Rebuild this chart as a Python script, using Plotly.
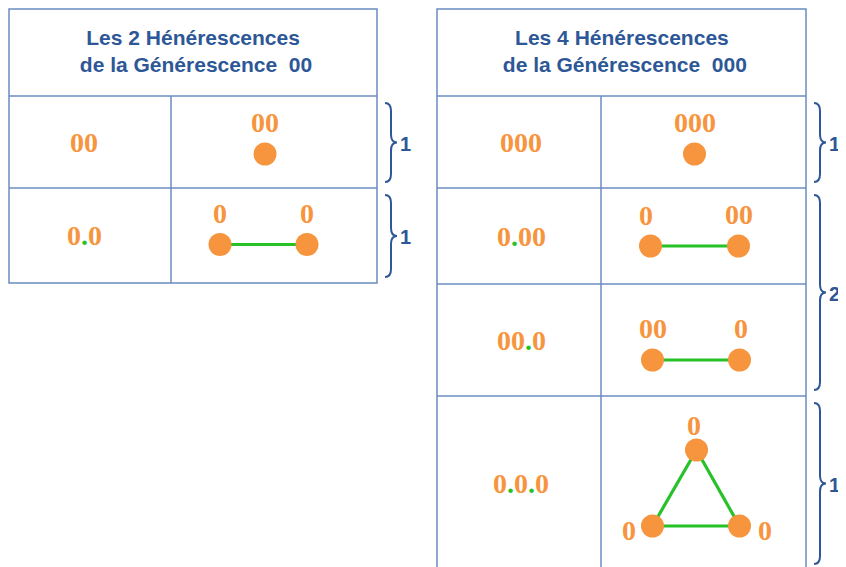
import plotly.graph_objects as go

# ---------------- data ----------------
left_title = ["Les 2 Hénérescences", "de la Générescence  00"]
right_title = ["Les 4 Hénérescences", "de la Générescence  000"]

# codes of each row ('.' rendered in green)
left_codes = ["00", "0.0"]
right_codes = ["000", "0.00", "00.0", "0.0.0"]

# graphs: node labels, node offsets (dx, dy) from cell centre, label offsets, edges
graphs = {
    "00": dict(labels=["00"], nodes=[(-9, 12)], lab=[(0, -32)], edges=[]),
    "0.0": dict(labels=["0", "0"], nodes=[(-54, 9), (33, 9)], lab=[(0, -31), (0, -31)], edges=[(0, 1)]),
    "000": dict(labels=["000"], nodes=[(-9, 12)], lab=[(0, -32)], edges=[]),
    "0.00": dict(labels=["0", "00"], nodes=[(-53, 10), (35, 10)], lab=[(-5, -31), (0, -32)], edges=[(0, 1)]),
    "00.0": dict(labels=["00", "0"], nodes=[(-51, 20), (36, 20)], lab=[(0, -32), (1, -32)], edges=[(0, 1)]),
    "0.0.0": dict(labels=["0", "0", "0"], nodes=[(-7, -33), (-51, 43), (36, 43)],
                  lab=[(-3, -25), (-24, 4), (25, 4)], edges=[(0, 1), (1, 2), (2, 0)]),
}

# row groups with braces: (first row, last row, count)
left_groups = [(0, 0, "1"), (1, 1, "1")]
right_groups = [(0, 0, "1"), (1, 2, "2"), (3, 3, "1")]

# ---------------- layout geometry (page pixels) ----------------
W, H = 846, 567
OFF = 8  # default page margin of the html body
left_x = [9, 171, 377]
left_y = [9, 96, 188, 283]
right_x = [437, 601, 806]
right_y = [9, 96, 188, 284, 396, 570]

LINE = "#6A8CC0"
BLUE = "#2D5796"
ORANGE = "#F7953F"
GREEN = "#27C227"

fig = go.Figure()
shapes = []
annotations = []


def code_html(code):
    return "<b>" + code.replace(".", f"<span style='color:{GREEN}'>.</span>") + "</b>"


def draw_table(xs, ys, title, codes, groups, code_dx):
    x0, xm, x1 = xs
    # outer border
    shapes.append(dict(type="rect", x0=x0, x1=x1, y0=ys[0], y1=ys[-1],
                       line=dict(color=LINE, width=1.5)))
    for y in ys[1:-1]:
        shapes.append(dict(type="line", x0=x0, x1=x1, y0=y, y1=y, line=dict(color=LINE, width=1.5)))
    shapes.append(dict(type="line", x0=xm, x1=xm, y0=ys[1], y1=ys[-1], line=dict(color=LINE, width=1.5)))
    # title
    annotations.append(dict(x=(x0 + x1) / 2, y=(ys[0] + ys[1]) / 2 - 2,
                            text="<b>" + title[0] + "<br> " + title[1] + "</b>",
                            showarrow=False, font=dict(family="Liberation Sans", size=21, color=BLUE),
                            align="center", xanchor="center", yanchor="middle"))
    for i, code in enumerate(codes):
        cy = (ys[i + 1] + ys[i + 2]) / 2
        annotations.append(dict(x=(x0 + xm) / 2 + code_dx, y=cy, text=code_html(code), showarrow=False,
                                font=dict(family="Liberation Serif", size=28, color=ORANGE),
                                xanchor="center", yanchor="middle"))
        g = graphs[code]
        cx = (xm + x1) / 2
        pts = [(cx + dx, cy + dy) for dx, dy in g["nodes"]]
        for a, b in g["edges"]:
            fig.add_trace(go.Scatter(x=[pts[a][0], pts[b][0]], y=[pts[a][1], pts[b][1]], mode="lines",
                                     line=dict(color=GREEN, width=3.2), hoverinfo="skip", showlegend=False))
        fig.add_trace(go.Scatter(x=[p[0] for p in pts], y=[p[1] for p in pts], mode="markers",
                                 marker=dict(size=23, color=ORANGE, line=dict(width=0)),
                                 hoverinfo="skip", showlegend=False))
        for lbl, p, (lx, ly) in zip(g["labels"], pts, g["lab"]):
            annotations.append(dict(x=p[0] + lx, y=p[1] + ly, text="<b>" + lbl + "</b>", showarrow=False,
                                    font=dict(family="Liberation Serif", size=28, color=ORANGE),
                                    xanchor="center", yanchor="middle"))
    # braces
    for r0, r1, n in groups:
        top = ys[r0 + 1] + 7
        bot = min(ys[r1 + 2] - 6, H - 2)
        mid = (top + bot) / 2
        bx = x1 + 8
        sp = bx + 6
        tip = bx + 12
        r = 8
        path = (f"M {bx},{top} Q {sp},{top} {sp},{top + r} L {sp},{mid - r} "
                f"Q {sp},{mid} {tip},{mid} Q {sp},{mid} {sp},{mid + r} "
                f"L {sp},{bot - r} Q {sp},{bot} {bx},{bot}")
        shapes.append(dict(type="path", path=path, line=dict(color=BLUE, width=2)))
        annotations.append(dict(x=tip + 1, y=mid + 1, text="<b>" + n + "</b>", showarrow=False,
                                font=dict(family="Liberation Sans", size=20, color=BLUE),
                                xanchor="left", yanchor="middle"))


draw_table(left_x, left_y, left_title, left_codes, left_groups, -6)
draw_table(right_x, right_y, right_title, right_codes, right_groups, 2)

fig.update_layout(
    width=W, height=H, margin=dict(l=0, r=0, t=0, b=0),
    paper_bgcolor="white", plot_bgcolor="white",
    xaxis=dict(range=[OFF, W + OFF], visible=False, fixedrange=True),
    yaxis=dict(range=[H + OFF, OFF], visible=False, fixedrange=True),
    shapes=shapes, annotations=annotations, showlegend=False,
)
fig.write_html("out.html", config={"displayModeBar": False})
